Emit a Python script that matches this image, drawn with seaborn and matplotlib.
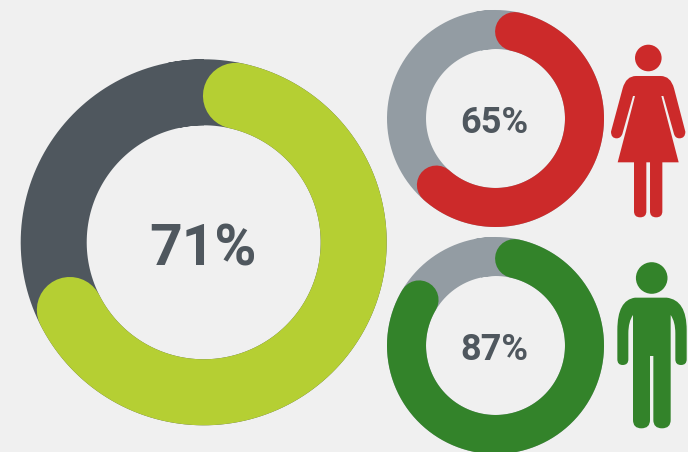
import numpy as np
import pandas as pd
import matplotlib
matplotlib.use("Agg")
import matplotlib.pyplot as plt
from matplotlib.path import Path
from matplotlib.patches import PathPatch, Circle
import seaborn as sns

# --- data ---
donut_names = ["overall", "women", "men"]
donut_values = [71, 65, 87]
donut_labels = ["71%", "65%", "87%"]

# --- styles ---
BG = "#f0f0f0"
DARK = "#4f575e"
LIME = "#b5cf33"
GRAY = "#939ca3"
RED = "#cc2a2a"
GREEN = "#33832a"
W, H = 688, 452

sns.set_theme(style="white")
plt.rcParams["font.family"] = ["Roboto", "DejaVu Sans"]

fig = plt.figure(figsize=((W + 0.01) / 100, (H + 0.01) / 100), dpi=100, facecolor=BG)

layout = [
    dict(cx=203.7, cy=242.3, outer=183.0, inner=117.0, track=DARK, arc=LIME, size=41, base=265.5),
    dict(cx=495.5, cy=118.5, outer=108.5, inner=69.5, track=GRAY, arc=RED, size=26, base=132.7),
    dict(cx=495.5, cy=345.5, outer=108.5, inner=69.5, track=GRAY, arc=GREEN, size=26, base=359.7),
]


def donut(value, cx, cy, outer, inner, track, arc):
    R = outer + 2
    ax = fig.add_axes([(cx - R) / W, 1 - (cy + R) / H, 2 * R / W, 2 * R / H], projection="polar")
    ax.set_theta_zero_location("N")
    ax.set_theta_direction(-1)
    mid = (outer + inner) / 2
    lw = (outer - inner) * 0.72
    cap = np.arctan((outer - inner) / 2 / mid)
    t_full = np.linspace(-0.2, 2 * np.pi, 400)
    sns.lineplot(x=t_full, y=np.full_like(t_full, mid), ax=ax, color=track, linewidth=lw,
                 estimator=None, sort=False, legend=False, solid_capstyle="butt")
    t_arc = np.linspace(cap, value / 100 * 2 * np.pi - cap, 400)
    sns.lineplot(x=t_arc, y=np.full_like(t_arc, mid), ax=ax, color=arc, linewidth=lw,
                 estimator=None, sort=False, legend=False, solid_capstyle="round")
    ax.set_rlim(0, R)
    ax.set_axis_off()
    ax.patch.set_alpha(0)


for v, d in zip(donut_values, layout):
    donut(v, d["cx"], d["cy"], d["outer"], d["inner"], d["track"], d["arc"])

# overlay in pixel coordinates for labels and icons
ov = fig.add_axes([0, 0, 1, 1], zorder=5)
ov.set_xlim(0, W)
ov.set_ylim(H, 0)
ov.set_axis_off()
ov.patch.set_alpha(0)

for lab, d in zip(donut_labels, layout):
    ov.text(d["cx"] - 1, d["base"], lab, ha="center", va="baseline", color=DARK,
            fontsize=d["size"], fontweight="bold")


def shape(cmds, ox, oy, color):
    verts, codes = [], []
    m = {"M": Path.MOVETO, "L": Path.LINETO, "Q": Path.CURVE3}
    for c, *pts in cmds:
        for p in pts:
            verts.append((ox + p[0] / 3, oy + p[1] / 3))
            codes.append(m[c])
    verts.append(verts[0])
    codes.append(Path.CLOSEPOLY)
    ov.add_patch(PathPatch(Path(verts, codes), facecolor=color, edgecolor="none"))


# woman
ov.add_patch(Circle((648.3, 58), 13.3, facecolor=RED, edgecolor="none"))
shape([
    ("M", (33, 305)), ("L", (68, 175)), ("Q", (78, 138), (108, 138)), ("L", (182, 138)),
    ("Q", (212, 138), (222, 175)), ("L", (256, 305)), ("Q", (256, 325), (238, 325)),
    ("Q", (226, 325), (222, 312)), ("L", (190, 198)), ("L", (184, 198)), ("L", (236, 397)),
    ("L", (53, 397)), ("L", (105, 198)), ("L", (99, 198)), ("L", (67, 312)),
    ("Q", (62, 325), (50, 325)), ("Q", (33, 325), (33, 305)),
], 600, 30, RED)
for x0 in (102, 150):
    shape([
        ("M", (x0, 390)), ("L", (x0 + 37, 390)), ("L", (x0 + 37, 544)),
        ("Q", (x0 + 37, 562), (x0 + 18.5, 562)), ("Q", (x0, 562), (x0, 544)),
    ], 600, 30, RED)

# man
ov.add_patch(Circle((651.7, 278), 15.8, facecolor=GREEN, edgecolor="none"))
shape([
    ("M", (105, 143)), ("L", (200, 143)), ("Q", (260, 150), (260, 240)), ("L", (260, 328)),
    ("Q", (260, 345), (243, 345)), ("Q", (226, 345), (226, 328)), ("L", (226, 250)),
    ("Q", (226, 215), (212, 195)), ("L", (212, 510)), ("Q", (212, 535), (186, 535)),
    ("Q", (160, 535), (160, 510)), ("L", (160, 318)), ("L", (150, 318)), ("L", (150, 510)),
    ("Q", (150, 535), (124, 535)), ("Q", (99, 535), (99, 510)), ("L", (99, 195)),
    ("Q", (85, 215), (85, 250)), ("L", (85, 328)), ("Q", (85, 345), (68, 345)),
    ("Q", (52, 345), (52, 328)), ("L", (52, 240)), ("Q", (52, 150), (105, 143)),
], 600, 250, GREEN)

fig.savefig("out.png", dpi=100, facecolor=BG)
